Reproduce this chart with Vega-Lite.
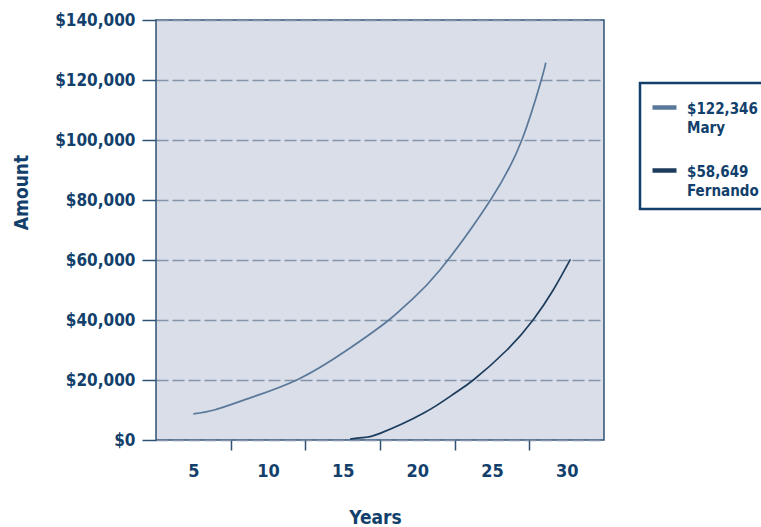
{
  "$schema": "https://vega.github.io/schema/vega-lite/v6.json",
  "width": 448,
  "height": 420,
  "autosize": "none",
  "padding": {"left": 156, "top": 20, "right": 157, "bottom": 87},
  "background": "white",
  "config": {
    "font": "'DejaVu Sans Condensed', 'Liberation Sans', sans-serif",
    "view": {"fill": "#d9dee8", "stroke": "#2f5274", "strokeWidth": 1.5}
  },
  "data": {
    "values": [
      {"name": "Mary", "year": 5, "amount": 8700},
      {"name": "Mary", "year": 6.4, "amount": 10000},
      {"name": "Mary", "year": 8.6, "amount": 13700},
      {"name": "Mary", "year": 12, "amount": 20200},
      {"name": "Mary", "year": 15.3, "amount": 30000},
      {"name": "Mary", "year": 18.1, "amount": 40000},
      {"name": "Mary", "year": 19.5, "amount": 46200},
      {"name": "Mary", "year": 21.5, "amount": 56600},
      {"name": "Mary", "year": 24.9, "amount": 80000},
      {"name": "Mary", "year": 27, "amount": 100000},
      {"name": "Mary", "year": 28.3, "amount": 120000},
      {"name": "Mary", "year": 28.6, "amount": 125800},
      {"name": "Fernando", "year": 15.5, "amount": 300},
      {"name": "Fernando", "year": 16.5, "amount": 900},
      {"name": "Fernando", "year": 17.5, "amount": 2200},
      {"name": "Fernando", "year": 20.4, "amount": 8900},
      {"name": "Fernando", "year": 22.5, "amount": 15600},
      {"name": "Fernando", "year": 23.75, "amount": 20000},
      {"name": "Fernando", "year": 26, "amount": 30000},
      {"name": "Fernando", "year": 27.75, "amount": 40000},
      {"name": "Fernando", "year": 29.1, "amount": 50000},
      {"name": "Fernando", "year": 30.25, "amount": 60200}
    ]
  },
  "mark": {"type": "line", "interpolate": "natural", "strokeWidth": 1.7},
  "encoding": {
    "x": {
      "field": "year",
      "type": "quantitative",
      "scale": {"domain": [2.5, 32.5], "nice": false, "zero": false},
      "axis": {
        "title": "Years",
        "values": [5, 7.5, 10, 12.5, 15, 17.5, 20, 22.5, 25, 27.5, 30],
        "labelExpr": "datum.value % 5 == 0 ? datum.label : ''",
        "tickOpacity": {"condition": {"test": "datum.value % 5 == 0", "value": 0}, "value": 1},
        "tickColor": "#2f5274",
        "tickWidth": 1.5,
        "tickSize": 10,
        "labelPadding": 12,
        "labelFontSize": 18,
        "labelFontWeight": "bold",
        "labelColor": "#123f6b",
        "labelFlush": false,
        "domain": false,
        "grid": false,
        "titleFontSize": 19,
        "titleFontWeight": "bold",
        "titleColor": "#123f6b",
        "titleX": 219,
        "titleY": 77,
        "titleBaseline": "middle",
        "titleAlign": "center"
      }
    },
    "y": {
      "field": "amount",
      "type": "quantitative",
      "scale": {"domain": [0, 140000], "nice": false},
      "axis": {
        "title": "Amount",
        "values": [0, 20000, 40000, 60000, 80000, 100000, 120000, 140000],
        "format": "$,.0f",
        "tickColor": "#2f5274",
        "tickWidth": 1.5,
        "tickSize": 14,
        "labelPadding": 7,
        "labelFontSize": 17,
        "labelFontWeight": "bold",
        "labelColor": "#123f6b",
        "labelFlush": false,
        "domain": false,
        "grid": true,
        "gridColor": "#8494ab",
        "gridDash": [12, 4],
        "gridWidth": 1.3,
        "titleFontSize": 19,
        "titleFontWeight": "bold",
        "titleColor": "#123f6b",
        "titleAngle": -90,
        "titleX": -135,
        "titleY": 172,
        "titleBaseline": "middle",
        "titleAlign": "center"
      }
    },
    "color": {
      "field": "name",
      "type": "nominal",
      "scale": {"domain": ["Mary", "Fernando"], "range": ["#5a7899", "#1c3c5d"]},
      "legend": {
        "title": null,
        "orient": "none",
        "legendX": 484,
        "legendY": 63,
        "padding": 10,
        "strokeColor": "#123f6b",
        "symbolType": "stroke",
        "symbolSize": 576,
        "symbolStrokeWidth": 4.5,
        "labelOffset": 8,
        "labelFontSize": 15,
        "labelFontWeight": "bold",
        "labelColor": "#123f6b",
        "labelLimit": 400,
        "labelBaseline": "alphabetic",
        "rowPadding": 20,
        "labelExpr": "datum.label == 'Mary' ? ['$122,346', 'Mary'] : ['$58,649', 'Fernando']",
        "encode": {
          "legend": {"update": {"strokeWidth": {"value": 2.5}}},
          "labels": {"update": {"dy": {"value": 6}, "lineHeight": {"value": 19}}}
        }
      }
    }
  }
}
